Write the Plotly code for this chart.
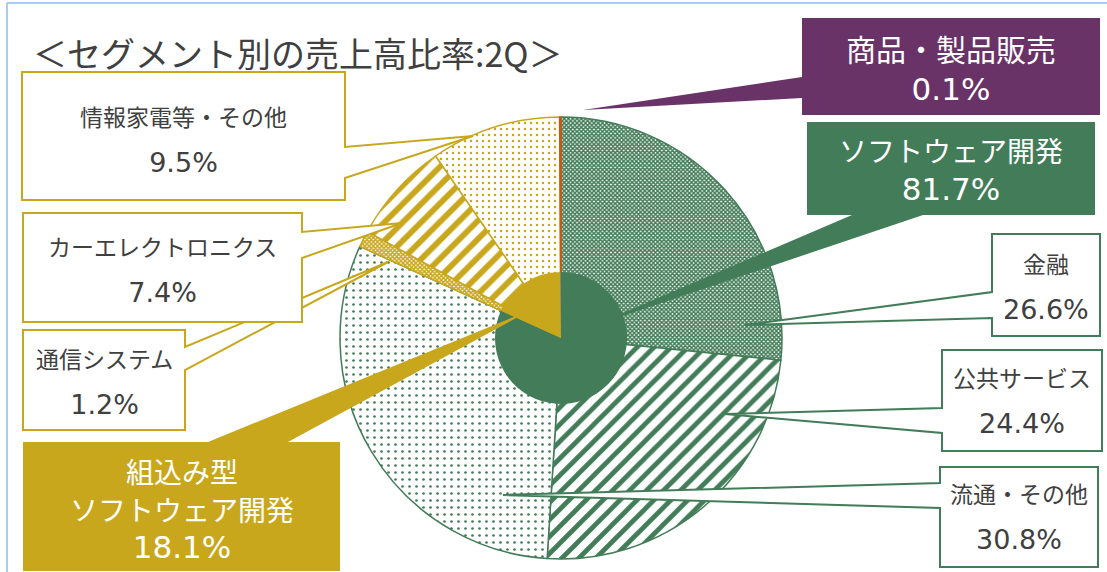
import plotly.graph_objects as go

# ---------------- data ----------------
inner_labels = ["ソフトウェア開発", "組込み型\nソフトウェア開発", "商品・製品販売"]
inner_values = [81.7, 18.1, 0.1]

outer_labels = ["金融", "公共サービス", "流通・その他", "通信システム",
                "カーエレクトロニクス", "情報家電等・その他", "商品・製品販売"]
outer_values = [26.6, 24.4, 30.8, 1.2, 7.4, 9.5, 0.1]

title_text = "＜セグメント別の売上高比率:2Q＞"

# ---------------- style ----------------
W, H = 1107, 572
GREEN = "#437C58"
GOLD = "#C9A71D"
PURPLE = "#693368"
BLUE = "#4472C4"
ORANGE = "#C55A11"
TEXT = "#404040"
FRAME = "#A7CDF0"
FONT = "Noto Sans CJK JP"
NUMFONT = "DejaVu Sans"

CX, CY, R_OUT, R_IN = 561, 338, 221, 66


def px(x, y):
    return x / W, 1 - y / H


def dom(r):
    return dict(x=[(CX - r) / W, (CX + r) / W],
                y=[1 - (CY + r) / H, 1 - (CY - r) / H])


outer_fg = [GREEN, GREEN, GREEN, GOLD, GOLD, GOLD, ORANGE]
outer_shape = ["x", "/", ".", "x", "/", ".", ""]
outer_size = [3, 12, 7, 3, 13, 6, 8]
outer_solid = [0.75, 0.4, 0.12, 0.75, 0.45, 0.13, 0.3]

fig = go.Figure()
fig.add_trace(go.Pie(
    labels=outer_labels, values=outer_values, sort=False, direction="clockwise",
    rotation=0, textinfo="none", hoverinfo="label+percent", domain=dom(R_OUT),
    marker=dict(colors=["white"] * 6 + [ORANGE],
                line=dict(color=outer_fg, width=1.5),
                pattern=dict(shape=outer_shape, fgcolor=outer_fg,
                             bgcolor=["white"] * 6 + [ORANGE],
                             size=outer_size, solidity=outer_solid,
                             fillmode="replace")),
    showlegend=False,
))
fig.add_trace(go.Pie(
    labels=[l.replace("\n", "") for l in inner_labels], values=inner_values,
    sort=False, direction="clockwise", rotation=0, textinfo="none",
    hoverinfo="label+percent", domain=dom(R_IN),
    marker=dict(colors=[GREEN, GOLD, BLUE], line=dict(width=0)),
    showlegend=False,
))

# ---------------- callouts (layout) ----------------
# base: font size driving line spacing; ts: label text size; ns: number size
callouts = [
    dict(src="outer", i=3, box=(23, 330, 185, 430), side="right", notch=(347, 370),
         tip=(388, 262), color=GOLD, filled=False, yc=380),
    dict(src="outer", i=4, box=(23, 213, 302, 322), side="right", notch=(232, 258),
         tip=(402, 223), color=GOLD, filled=False, yc=269),
    dict(src="outer", i=5, box=(22, 72, 345, 200), side="right", notch=(147, 178),
         tip=(473, 136), color=GOLD, filled=False, yc=138),
    dict(src="outer", i=0, box=(992, 234, 1100, 336), side="left", notch=(292, 318),
         tip=(745, 325), color=GREEN, filled=False, yc=285),
    dict(src="outer", i=1, box=(942, 350, 1102, 451), side="left", notch=(408, 433),
         tip=(725, 414), color=GREEN, filled=False, yc=399),
    dict(src="outer", i=2, box=(940, 467, 1098, 567), side="left", notch=(483, 508),
         tip=(503, 495), color=GREEN, filled=False, yc=515),
    dict(src="inner", i=1, box=(23, 442, 340, 571), side="top", notch=(208, 288),
         tip=(533, 309), color=GOLD, filled=True, yc=508, base=29, ts=28, ns=31),
    dict(src="inner", i=0, box=(807, 122, 1095, 215), side="bottom", notch=(852, 923),
         tip=(590, 327), color=GREEN, filled=True, yc=168, base=29, ts=28, ns=31),
    dict(src="inner", i=2, box=(802, 18, 1100, 115), side="left", notch=(77, 98),
         tip=(583, 110), color=PURPLE, filled=True, yc=67, base=30, ts=30, ns=31),
]


def callout_path(box, side, notch, tip):
    x0, y0, x1, y1 = box
    a, b = notch
    if side == "right":
        pts = [(x0, y0), (x1, y0), (x1, a), tip, (x1, b), (x1, y1), (x0, y1)]
    elif side == "left":
        pts = [(x0, y0), (x1, y0), (x1, y1), (x0, y1), (x0, b), tip, (x0, a)]
    elif side == "top":
        pts = [(x0, y0), (a, y0), tip, (b, y0), (x1, y0), (x1, y1), (x0, y1)]
    else:
        pts = [(x0, y0), (x1, y0), (x1, y1), (b, y1), tip, (a, y1), (x0, y1)]
    s = ""
    for k, (x, y) in enumerate(pts):
        X, Y = px(x, y)
        s += ("M" if k == 0 else "L") + f"{X:.5f},{Y:.5f} "
    return s + "Z"


shapes = []
annotations = []
for c in callouts:
    shapes.append(dict(
        type="path", xref="paper", yref="paper", layer="above",
        path=callout_path(c["box"], c["side"], c["notch"], c["tip"]),
        fillcolor=c["color"] if c["filled"] else "white",
        line=dict(color=c["color"], width=0 if c["filled"] else 2),
    ))
    if c["src"] == "outer":
        name, val = outer_labels[c["i"]], outer_values[c["i"]]
    else:
        name, val = inner_labels[c["i"]], inner_values[c["i"]]
    base = c.get("base", 35)
    ts = c.get("ts", 23)
    ns = c.get("ns", 27)
    parts = [f"<span style='font-size:{ts}px'>{t}</span>" for t in name.split("\n")]
    parts.append(f"<span style='font-size:{ns}px;font-family:{NUMFONT}'>{val:.1f}%</span>")
    cx = (c["box"][0] + c["box"][2]) / 2
    col = "white" if c["filled"] else TEXT
    X, Y = px(cx, c["yc"])
    annotations.append(dict(
        x=X, y=Y, xref="paper", yref="paper", text="<br>".join(parts), showarrow=False,
        xanchor="center", yanchor="middle", align="center",
        font=dict(family=FONT, size=base, color=col)))

# frame (top + left light-blue border)
fx0, fy0 = px(7, 3)
fx1, fy1 = px(1120, 590)
shapes.append(dict(type="line", xref="paper", yref="paper", x0=fx0, y0=fy0, x1=fx1, y1=fy0,
                   line=dict(color=FRAME, width=2), layer="above"))
shapes.append(dict(type="line", xref="paper", yref="paper", x0=fx0, y0=fy0, x1=fx0, y1=fy1,
                   line=dict(color=FRAME, width=2), layer="above"))

tx, ty = px(31, 52)
annotations.append(dict(x=tx, y=ty, xref="paper", yref="paper", text=title_text,
                        showarrow=False, xanchor="left", yanchor="middle",
                        font=dict(family=FONT, size=34, color=TEXT)))

fig.update_layout(
    width=W, height=H, margin=dict(l=0, r=0, t=0, b=0),
    paper_bgcolor="white", plot_bgcolor="white",
    shapes=shapes, annotations=annotations,
    font=dict(family=FONT),
)

fig.write_html("out.html", config={"displayModeBar": False},
               post_script="document.body.style.margin='0';")
